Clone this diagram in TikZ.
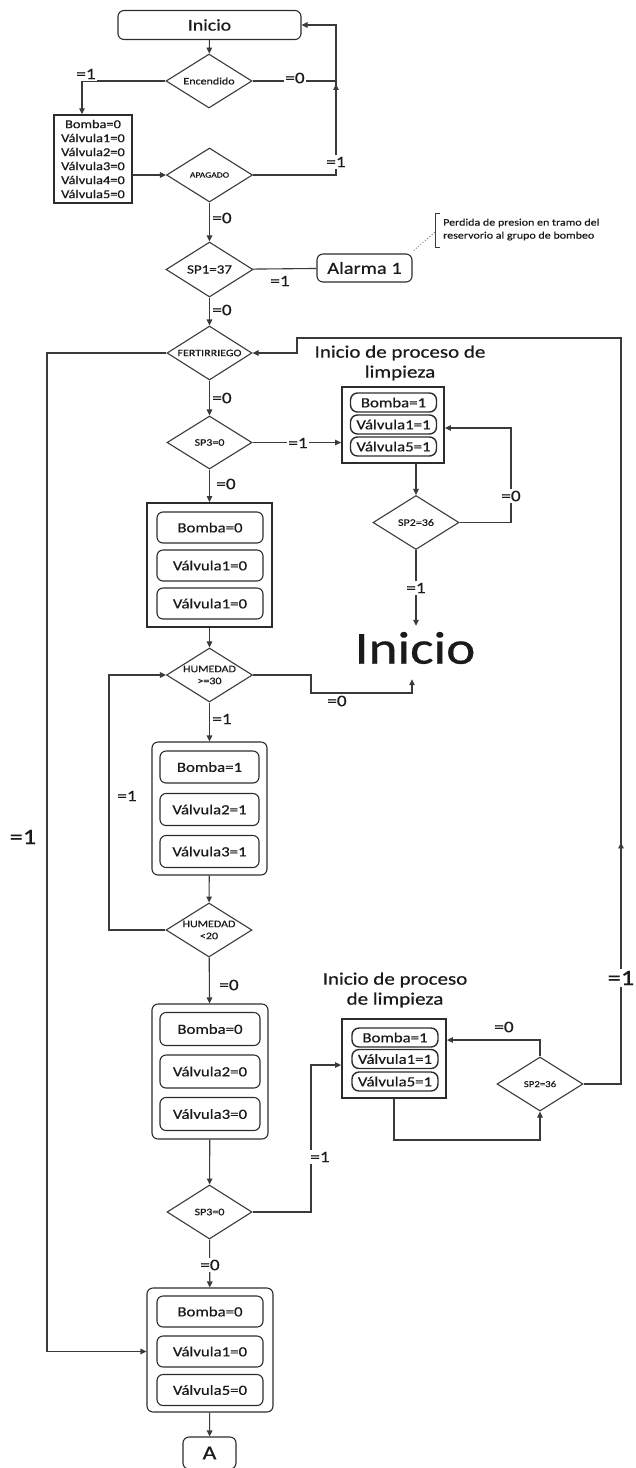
\documentclass[tikz,border=0pt]{standalone}
\usepackage{fontspec}
\setmainfont[FakeStretch=1.2,FakeBold=0.6]{Carlito}
\usetikzlibrary{shapes.geometric,arrows.meta,decorations.markings}
\definecolor{linec}{HTML}{3A3A3A}
\definecolor{boxc}{HTML}{2C2C2C}
\definecolor{txtc}{HTML}{1A1A1A}

\begin{document}
\begin{tikzpicture}[x=1pt,y=-1pt,
  every node/.style={text=txtc},
  line/.style={draw=linec, line width=1.1pt},
  tip/.style={-{Triangle[length=6pt,width=5.5pt]}},
  arr/.style={line, tip},
  midtip/.style={decoration={markings, mark=at position #1 with {\arrow{Triangle[length=6pt,width=5.5pt]}}}, postaction=decorate},
  dia/.style={draw=linec, line width=1.1pt, shape=diamond, inner sep=0pt,
              minimum width=86pt, minimum height=54pt},
  dtxt/.style={font=\fontsize{10}{12}\selectfont, align=center, inner sep=0pt},
  rbox/.style={draw=boxc, line width=1.1pt, rounded corners=6pt, inner sep=0pt},
  sqbox/.style={draw=boxc, line width=1.8pt, inner sep=0pt},
  pill/.style={draw=boxc, line width=1.1pt, rounded corners=6pt, inner sep=0pt,
               font=\fontsize{14}{16}\selectfont},
  spill/.style={draw=boxc, line width=1.4pt, rounded corners=7pt, inner sep=0pt,
               font=\fontsize{14}{16}\selectfont, minimum width=86pt, minimum height=19pt},
  lbl/.style={font=\fontsize{16}{18}\selectfont, inner sep=1.5pt},
  wlbl/.style={lbl, fill=white},
  biglbl/.style={font=\fontsize{22}{24}\selectfont, inner sep=1.5pt},
  title/.style={font=\fontsize{17.5}{20}\selectfont, align=center, inner sep=0pt}
]
\useasboundingbox (0,0) rectangle (636,1468);

% ---------- start and power check ----------
\node[rbox, minimum width=183pt, minimum height=29pt, font=\fontsize{16.5}{18}\selectfont] (ini) at (209.5,25) {Inicio};
\node[dia, label={[dtxt]center:Encendido}] (enc) at (209,81) {};
\node[draw=boxc, line width=1.5pt, minimum width=78pt, minimum height=88pt, inner sep=0pt,
      align=center, font=\fontsize{12}{14}\selectfont] (list) at (93,159)
      {Bomba=0\\Válvula1=0\\Válvula2=0\\Válvula3=0\\Válvula4=0\\Válvula5=0};
\node[dia, label={[dtxt, font=\fontsize{8}{10}\selectfont]center:APAGADO}] (apa) at (209.5,175) {};
\coordinate (rx) at (336,0);
\coordinate (j1) at (336,81);

\draw[arr] (ini) -- (enc);
\draw[arr] (enc.west) -| ([xshift=-11pt]list.north);
\draw[line] (enc.east) -- (j1);
\draw[arr] (list.east |- apa.west) -- (apa.west);
\draw[arr, midtip=174pt] (apa.east) -- (apa.east -| rx) -- (rx |- ini.east) -- (ini.east);

\node[wlbl] (l1) at (86,74) {=1};
\node[wlbl] (l2) at (295,78) {=0};
\node[wlbl] (l3) at (336,162) {=1};

% ---------- pressure alarm ----------
\node[dia, minimum width=87pt, minimum height=55pt,
      label={[dtxt, font=\fontsize{12.5}{14}\selectfont]center:SP1=37}] (sp1) at (209.5,269.5) {};
\node[rbox, minimum width=95pt, minimum height=28pt, font=\fontsize{17}{19}\selectfont] (alarm) at (364.5,268) {Alarma 1};
\node[anchor=west, align=left, inner sep=0pt, font=\fontsize{10}{13}\selectfont] (note) at (443,229.5)
      {Perdida de presion en tramo del\\reservorio al grupo de bombeo};
\coordinate (brk) at (435,232);
\draw[linec, line width=0.8pt] (440,213) -- (435,213) -- (435,247) -- (440,247);
\draw[gray, line width=1pt, dotted] ([shift={(1pt,3pt)}]alarm.north east) -- (brk);

\draw[arr] (apa) -- (sp1);
\draw[line] (sp1) -- (alarm);
\node[lbl] (l4) at (222,218) {=0};
\node[lbl] (l5) at (280,281) {=1};

% ---------- fertigation ----------
\node[dia, minimum width=85pt, label={[dtxt]center:FERTIRRIEGO}] (fert) at (209.5,353) {};
\node[dia, minimum width=85pt, minimum height=53pt, label={[dtxt]center:SP3=0}] (sp3a) at (209.5,442.5) {};
\draw[arr] (sp1) -- (fert);
\draw[arr] (fert) -- (sp3a);
\node[lbl] (l6) at (222,310) {=0};
\node[lbl] (l7) at (222,398) {=0};

% cleaning cycle (first)
\node[title] (t1) at (400,363) {Inicio de proceso de\\limpieza};
\node[sqbox, minimum width=102pt, minimum height=76pt] (clean1) at (393,425) {};
\node[spill] (c1a) at (393.5,402.5) {Bomba=1};
\node[spill] (c1b) at (393.5,424.5) {Válvula1=1};
\node[spill] (c1c) at (393.5,446.5) {Válvula5=1};
\node[dia, label={[dtxt]center:SP2=36}] (sp2a) at (416,522.5) {};
\node[inner ysep=6pt, inner xsep=0pt, font=\fontsize{46}{50}\selectfont] (bigini) at (415,648) {Inicio};
\coordinate (c1r) at (511,428);

\draw[arr] (sp3a) -- (clean1.west |- sp3a.east);
\draw[arr] (clean1.south -| sp2a.north) -- (sp2a.north);
\draw[arr] (sp2a.east) -| (c1r) -- (c1r -| clean1.east);
\draw[arr] (sp2a.south) -- (sp2a.south |- bigini.north);
\node[wlbl] (l8) at (298,443) {=1};
\node[wlbl] (l10) at (511,496) {=0};
\node[wlbl] (l11) at (416,588) {=1};

% valves closed
\node[sqbox, minimum width=125pt, minimum height=124pt] (g1) at (209.5,565) {};
\node[pill, minimum width=106pt, minimum height=31pt] (g1a) at (210,527.5) {Bomba=0};
\node[pill, minimum width=106pt, minimum height=31pt] (g1b) at (210,565.5) {Válvula1=0};
\node[pill, minimum width=106pt, minimum height=31pt] (g1c) at (210,603.5) {Válvula1=0};
\draw[arr] (sp3a) -- (g1);
\node[lbl] (l9) at (226,484) {=0};

% ---------- humidity control ----------
\node[dia, label={[dtxt]center:{HUMEDAD\\>=30}}] (hum1) at (209.5,675) {};
\node[rbox, minimum width=115pt, minimum height=133pt] (g2) at (209.5,808.5) {};
\node[pill, minimum width=99pt, minimum height=32pt] (g2a) at (209.5,767) {Bomba=1};
\node[pill, minimum width=99pt, minimum height=32pt] (g2b) at (209.5,809.5) {Válvula2=1};
\node[pill, minimum width=99pt, minimum height=32pt] (g2c) at (209.5,851.5) {Válvula3=1};
\node[dia, label={[dtxt]center:{HUMEDAD\\<20}}] (hum2) at (209,930) {};
\coordinate (h1a) at (311,693);
\coordinate (h1b) at (412,693);
\coordinate (lx) at (109,0);

\draw[arr] (g1) -- (hum1);
\draw[arr, shorten >=9pt] (hum1.east) -| (h1a) -- (h1b) -- (h1b |- bigini.south);
\draw[arr] (hum1) -- (g2);
\draw[arr] (g2) -- (hum2);
\draw[arr] (hum2.west) -- (hum2.west -| lx) -- (lx |- hum1.west) -- (hum1.west);
\node[wlbl] (l12) at (337,701) {=0};
\node[lbl] (l13) at (222,719) {=1};
\node[lbl] (l14) at (127,796) {=1};

\node[rbox, minimum width=116pt, minimum height=135pt] (g3) at (210,1071.5) {};
\node[pill, minimum width=100pt, minimum height=33pt] (g3a) at (210,1029) {Bomba=0};
\node[pill, minimum width=100pt, minimum height=33pt] (g3b) at (210,1071.5) {Válvula2=0};
\node[pill, minimum width=100pt, minimum height=33pt] (g3c) at (210,1114) {Válvula3=0};
\draw[arr] (hum2) -- (g3);
\node[lbl] (l15) at (229,985) {=0};

% cleaning cycle (second)
\node[title] (t2) at (395,990) {Inicio de proceso\\de limpieza};
\node[sqbox, minimum width=104pt, minimum height=79pt] (clean2) at (394,1058.5) {};
\node[spill] (c2a) at (395,1037.5) {Bomba=1};
\node[spill] (c2b) at (395,1059) {Válvula1=1};
\node[spill] (c2c) at (395,1081.5) {Válvula5=1};
\node[dia, label={[dtxt, font=\fontsize{9}{11}\selectfont]center:SP2=36}] (sp2b) at (540,1084) {};
\node[dia, minimum width=85pt, label={[dtxt]center:SP3=0}] (sp3b) at (209.5,1212) {};

% ---------- final shutdown ----------
\node[rbox, minimum width=126pt, minimum height=124pt] (g4) at (210,1350) {};
\node[pill, minimum width=106pt, minimum height=31pt] (g4a) at (210,1311.5) {Bomba=0};
\node[pill, minimum width=106pt, minimum height=31pt] (g4b) at (210,1351.5) {Válvula1=0};
\node[pill, minimum width=106pt, minimum height=31pt] (g4c) at (210,1390) {Válvula5=0};
\node[rbox, minimum width=53pt, minimum height=32pt, font=\fontsize{20}{22}\selectfont] (A) at (209.5,1453) {A};

\coordinate (s3x) at (311,1065);
\coordinate (c2bot) at (394,1140);
\coordinate (s2t) at (540,1040);
\coordinate (rr) at (621,338);
\coordinate (rk) at (297,338);
\coordinate (lx2) at (47,0);

\draw[arr] (g3) -- (sp3b);
\draw[arr] (sp3b.east) -| (s3x) -- (s3x -| clean2.west);
\draw[arr] (clean2.south) -- (c2bot) -| (sp2b.south);
\draw[arr] (sp2b.north) -- (s2t) -- (s2t -| clean2.east);
\draw[arr, midtip=279pt] (sp2b.east) -| (rr) -- (rk) |- (fert.east);
\draw[arr] (fert.west) -- (fert.west -| lx2) -- (lx2 |- g4b) -- (g4b -| g4.west);
\draw[arr] (sp3b) -- (g4);
\draw[arr] (g4) -- (A);

\node[wlbl] (l16) at (320,1157) {=1};
\node[lbl] (l17) at (504,1027) {=0};
\node[biglbl, fill=white] (l20) at (621,978) {=1};
\node[biglbl] (l19) at (23,837) {=1};
\node[wlbl] (l18) at (210,1265) {=0};
\end{tikzpicture}
\end{document}
